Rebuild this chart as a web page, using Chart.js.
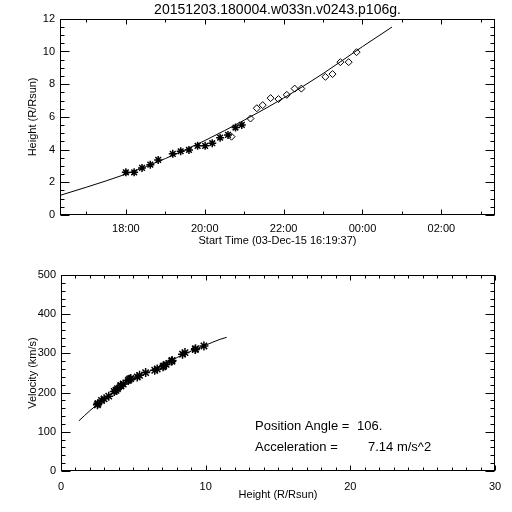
<!DOCTYPE html>
<html>
<head>
<meta charset="utf-8">
<script src="https://cdn.jsdelivr.net/npm/chart.js@4.4.0/dist/chart.umd.min.js"></script>
<style>
  body { margin: 0; background: #fff; }
  #wrap { position: relative; width: 512px; height: 512px; background: #fff; }
  canvas { position: absolute; left: 0; }
</style>
</head>
<body>
<div id="wrap">
  <canvas id="heightChart" width="512" height="256" style="top:0"></canvas>
  <canvas id="velocityChart" width="512" height="256" style="top:256px"></canvas>
</div>
<script>
// --- height-time plot data (hours since 00:00 on 03-Dec) ---
const c2Times = [18.00, 18.21, 18.41, 18.62, 18.82, 19.19, 19.39, 19.60, 19.82, 20.01, 20.19, 20.39, 20.59, 20.78, 20.94];
const c2Heights = [2.61, 2.61, 2.88, 3.08, 3.37, 3.74, 3.90, 3.98, 4.23, 4.23, 4.39, 4.73, 4.90, 5.35, 5.51];
const c3Times = [20.68, 21.16, 21.32, 21.47, 21.67, 21.87, 22.08, 22.28, 22.45, 23.06, 23.24, 23.44, 23.65, 23.85];
const c3Heights = [4.79, 5.90, 6.53, 6.72, 7.15, 7.09, 7.35, 7.73, 7.73, 8.45, 8.62, 9.35, 9.35, 9.96];
const fitTimes = [16.33, 17, 18, 19, 20, 21, 22, 23, 24, 24.75];
const fitHeights = [1.2, 1.7, 2.5, 3.45, 4.55, 5.8, 7.15, 8.65, 10.3, 11.5];

const timeTicks = [18, 20, 22, 24, 26];
const timeTickLabels = ["18:00", "20:00", "22:00", "00:00", "02:00"];
const timeMinorTicks = [17, 18, 19, 20, 21, 22, 23, 24, 25, 26, 27];
const heightTicks = [0, 2, 4, 6, 8, 10, 12];
const heightMinorTicks = [0.5, 1, 1.5, 2, 2.5, 3, 3.5, 4, 4.5, 5, 5.5, 6, 6.5, 7, 7.5, 8, 8.5, 9, 9.5, 10, 10.5, 11, 11.5];

// --- velocity-height plot data ---
const velHeights = [2.52, 2.55, 2.80, 2.98, 3.30, 3.68, 3.80, 3.90, 4.12, 4.15, 4.30, 4.65, 4.72, 4.82, 5.27, 5.43, 5.85, 6.48, 6.65, 7.05, 7.10, 7.27, 7.65, 7.68, 8.40, 8.57, 9.28, 9.30, 9.88];
const velValues = [169, 172, 180, 184, 191, 203, 206, 210, 217, 218, 222, 231, 234, 236, 240, 244, 251, 257, 260, 266, 268, 272, 280, 282, 298, 302, 310, 312, 319];
const velFitHeights = [1.24, 2, 3, 4, 5, 6, 7, 8, 9, 10, 11, 11.45];
const velFitValues = [128, 154, 184, 209, 232, 252, 271, 289, 306, 321, 336, 341];

const distTicks = [0, 10, 20, 30];
const distMinorTicks = [1, 2, 3, 4, 5, 6, 7, 8, 9, 11, 12, 13, 14, 15, 16, 17, 18, 19, 21, 22, 23, 24, 25, 26, 27, 28, 29];
const speedTicks = [0, 100, 200, 300, 400, 500];
const speedMinorTicks = [20, 40, 60, 80, 120, 140, 160, 180, 220, 240, 260, 280, 320, 340, 360, 380, 420, 440, 460, 480];

const positionAngle = "106.";
const acceleration = "7.14 m/s^2";

Chart.defaults.font.family = '"Liberation Sans", Arial, sans-serif';
Chart.defaults.font.size = 11;
Chart.defaults.color = "#000";

const toPoints = (xs, ys) => xs.map((x, i) => ({ x: x, y: ys[i] }));

// IDL style frame with inward ticks on all four sides
const idlFrame = {
  id: "idlFrame",
  afterDatasetsDraw(chart, args, opts) {
    const { ctx, chartArea: a, scales } = chart;
    const L = Math.round(a.left) + 0.5, R = Math.round(a.right) - 0.5;
    const T = Math.round(a.top) + 0.5, B = Math.round(a.bottom) - 0.5;
    ctx.save();
    ctx.strokeStyle = "#000";
    ctx.lineWidth = 1;
    ctx.strokeRect(L, T, R - L, B - T);
    ctx.beginPath();
    const xt = (vals, len) => vals.forEach(v => {
      const p = Math.round(scales.x.getPixelForValue(v)) + 0.5;
      ctx.moveTo(p, B); ctx.lineTo(p, B - len);
      ctx.moveTo(p, T); ctx.lineTo(p, T + len);
    });
    const yt = (vals, len) => vals.forEach(v => {
      const p = Math.round(scales.y.getPixelForValue(v)) + 0.5;
      ctx.moveTo(L, p); ctx.lineTo(L + len, p);
      ctx.moveTo(R, p); ctx.lineTo(R - len, p);
    });
    xt(opts.xMinor, 3);
    xt(opts.xMajor, 5);
    yt(opts.yMinor, 4);
    yt(opts.yMajor, 9);
    ctx.stroke();
    ctx.restore();
  }
};

// text block inside the velocity plot
const infoText = {
  id: "infoText",
  afterDraw(chart) {
    const ctx = chart.ctx;
    ctx.save();
    ctx.fillStyle = "#000";
    ctx.font = '13px "Liberation Sans", Arial, sans-serif';
    ctx.textBaseline = "middle";
    ctx.fillText("Position Angle =", 255, 170);
    ctx.fillText(positionAngle, 357, 170);
    ctx.fillText("Acceleration =", 255, 191);
    ctx.fillText(acceleration, 368, 191);
    ctx.restore();
  }
};

function axis(min, max, ticks, labelFn, afterFit, title, titlePad, tickPad) {
  return {
    type: "linear",
    min: min,
    max: max,
    afterBuildTicks: s => { s.ticks = ticks.map(v => ({ value: v })); },
    afterFit: afterFit,
    grid: { display: false, drawTicks: false },
    border: { display: false },
    ticks: { callback: labelFn, padding: tickPad, maxRotation: 0, autoSkip: false, font: { size: 11 } },
    title: { display: true, text: title, padding: titlePad, font: { size: 11 } }
  };
}

new Chart(document.getElementById("heightChart"), {
  type: "scatter",
  data: {
    datasets: [
      {
        data: toPoints(fitTimes, fitHeights),
        showLine: true, pointRadius: 0, borderColor: "#000", borderWidth: 1,
        cubicInterpolationMode: "monotone"
      },
      {
        data: toPoints(c2Times, c2Heights),
        pointStyle: "star", pointRadius: 4, borderColor: "#000", borderWidth: 1.5
      },
      {
        data: toPoints(c3Times, c3Heights),
        pointStyle: "rectRot", pointRadius: 3.5, borderColor: "#000", borderWidth: 1,
        backgroundColor: "rgba(0,0,0,0)"
      }
    ]
  },
  options: {
    responsive: false,
    animation: false,
    layout: { padding: { left: 0, right: 17, top: 0, bottom: 0 } },
    plugins: {
      legend: { display: false },
      tooltip: { enabled: false },
      title: {
        display: true, fullSize: false,
        text: "20151203.180004.w033n.v0243.p106g.",
        font: { size: 14, weight: "normal" },
        padding: { top: 2, bottom: 0 }
      },
      idlFrame: { xMajor: timeTicks, xMinor: timeMinorTicks, yMajor: heightTicks, yMinor: heightMinorTicks }
    },
    scales: {
      x: axis(16.33, 27.36, timeTicks, v => timeTickLabels[timeTicks.indexOf(v)],
        s => { s.height = 41; }, "Start Time (03-Dec-15 16:19:37)", { top: 0, bottom: 8 }, 7),
      y: axis(0, 12, heightTicks, v => String(v),
        s => { s.width = 60; }, "Height (R/Rsun)", { top: 26, bottom: 0 }, 5)
    }
  },
  plugins: [idlFrame]
});

new Chart(document.getElementById("velocityChart"), {
  type: "scatter",
  data: {
    datasets: [
      {
        data: toPoints(velFitHeights, velFitValues),
        showLine: true, pointRadius: 0, borderColor: "#000", borderWidth: 1,
        cubicInterpolationMode: "monotone"
      },
      {
        data: toPoints(velHeights, velValues),
        pointStyle: "star", pointRadius: 4.5, borderColor: "#000", borderWidth: 1.5
      }
    ]
  },
  options: {
    responsive: false,
    animation: false,
    layout: { padding: { left: 0, right: 17, top: 19, bottom: 0 } },
    plugins: {
      legend: { display: false },
      tooltip: { enabled: false },
      idlFrame: { xMajor: distTicks, xMinor: distMinorTicks, yMajor: speedTicks, yMinor: speedMinorTicks }
    },
    scales: {
      x: axis(0, 30, distTicks, v => String(v),
        s => { s.height = 41; }, "Height (R/Rsun)", { top: 0, bottom: 10 }, 9),
      y: axis(0, 500, speedTicks, v => String(v),
        s => { s.width = 61; }, "Velocity (km/s)", { top: 26, bottom: 0 }, 5)
    }
  },
  plugins: [idlFrame, infoText]
});
</script>
</body>
</html>
